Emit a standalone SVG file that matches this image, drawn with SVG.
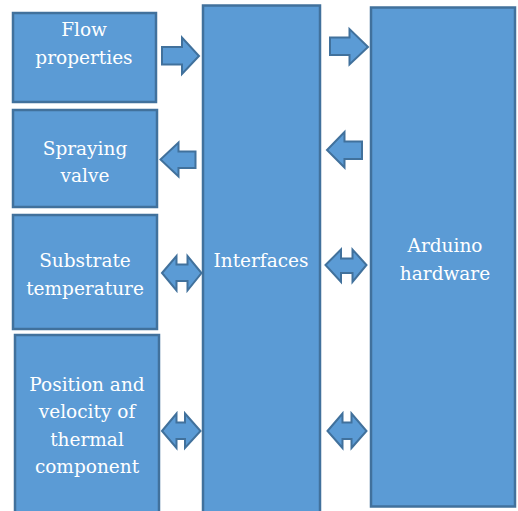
<svg xmlns="http://www.w3.org/2000/svg" width="518" height="511" viewBox="0 0 518 511">
<style>
.box{fill:#5b9bd5;stroke:#41719c;stroke-width:2.5}
.arr{fill:#5b9bd5;stroke:#41719c;stroke-width:2;stroke-linejoin:miter}
.t{font-family:"DejaVu Serif","Liberation Serif",serif;font-size:18.5px;fill:#ffffff;text-anchor:middle}
</style>
<rect width="518" height="511" fill="#ffffff"/>
<g id="flow-properties">
<rect class="box" x="13" y="13" width="143" height="89"/>
<text class="t" x="84" y="36">Flow</text>
<text class="t" x="84" y="64">properties</text>
</g>
<g id="spraying-valve">
<rect class="box" x="13" y="110" width="144" height="97"/>
<text class="t" x="85" y="155">Spraying</text>
<text class="t" x="85" y="182">valve</text>
</g>
<g id="substrate-temperature">
<rect class="box" x="13" y="215" width="144" height="114"/>
<text class="t" x="85" y="267">Substrate</text>
<text class="t" x="85" y="295">temperature</text>
</g>
<g id="position-velocity">
<rect class="box" x="15" y="335" width="144" height="180"/>
<text class="t" x="87" y="391">Position and</text>
<text class="t" x="87" y="418">velocity of</text>
<text class="t" x="87" y="446">thermal</text>
<text class="t" x="87" y="473">component</text>
</g>
<g id="interfaces">
<rect class="box" x="203" y="5.5" width="117" height="510"/>
<text class="t" x="261" y="267">Interfaces</text>
</g>
<g id="arduino-hardware">
<rect class="box" x="371" y="7.5" width="144" height="499"/>
<text class="t" x="445" y="252">Arduino</text>
<text class="t" x="445" y="280">hardware</text>
</g>
<g id="connectors">
<polygon class="arr" points="162,47 182,47 182,37.5 199,56 182,74 182,64.5 162,64.5"/>
<polygon class="arr" points="330,37.5 349.5,37.5 349.5,29 368,47 349.5,64.5 349.5,55 330,55"/>
<polygon class="arr" points="195.5,151.5 178.5,151.5 178.5,142.5 160.5,159.5 178.5,176.5 178.5,168 195.5,168"/>
<polygon class="arr" points="362,141.5 344.5,141.5 344.5,132 327,150 344.5,167.5 344.5,159 362,159"/>
<polygon class="arr" points="162,273 176.5,256 176.5,264.5 187.5,264.5 187.5,256 201.5,273 187.5,290.5 187.5,281 176.5,281 176.5,290.5"/>
<polygon class="arr" points="325.5,265 341,249.5 341,258.5 352.5,258.5 352.5,249.5 366.5,265 352.5,282 352.5,273 341,273 341,282"/>
<polygon class="arr" points="162,431 176.5,413.5 176.5,422.5 185,422.5 185,413.5 200.5,431 185,448 185,439 176.5,439 176.5,448"/>
<polygon class="arr" points="327.5,431 342.5,413.5 342.5,422.5 351.5,422.5 351.5,413.5 366.5,431 351.5,448 351.5,439 342.5,439 342.5,448"/>
</g>
</svg>
